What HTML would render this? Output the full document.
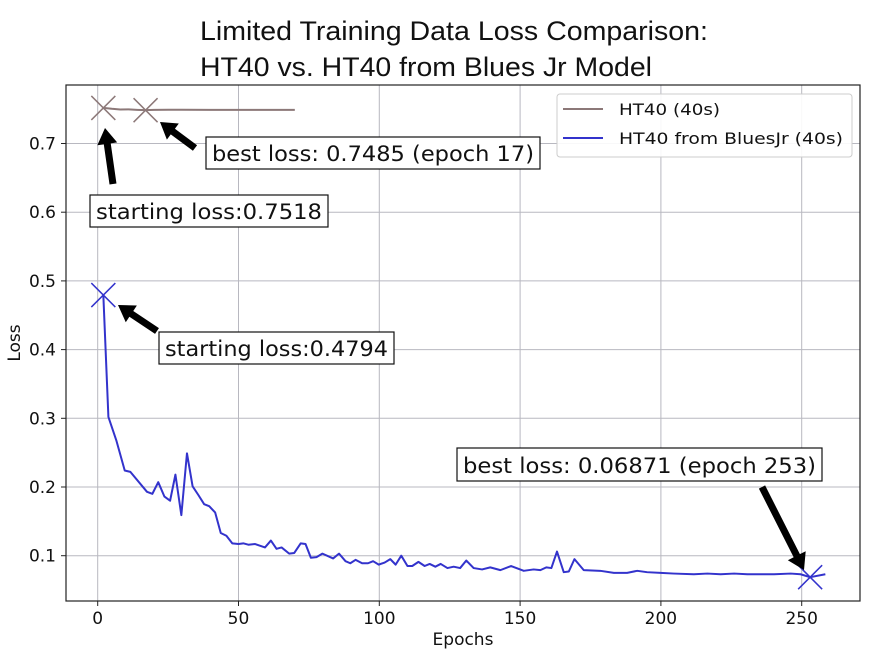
<!DOCTYPE html>
<html><head><meta charset="utf-8"><style>
html,body{margin:0;padding:0;background:#fff;}
svg text{font-family:"DejaVu Sans","Liberation Sans",sans-serif;}
</style></head><body>
<svg id="chart" width="893" height="654" xmlns="http://www.w3.org/2000/svg">
<rect width="893" height="654" fill="#fff"/>
<text x="200" y="40" font-size="27" textLength="508" lengthAdjust="spacingAndGlyphs" style="font-family:'Liberation Sans',sans-serif" fill="#111">Limited Training Data Loss Comparison:</text>
<text x="200" y="76" font-size="27" textLength="452" lengthAdjust="spacingAndGlyphs" style="font-family:'Liberation Sans',sans-serif" fill="#111">HT40 vs. HT40 from Blues Jr Model</text>
<g id="grid"></g>
<g id="ticks"></g>
<g id="series"></g>
<rect x="66" y="85" width="794" height="516" fill="none" stroke="#222" stroke-width="1.2"/>
<text transform="translate(20,343) rotate(-90)" text-anchor="middle" font-size="17" fill="#111">Loss</text>
<text x="463" y="645" text-anchor="middle" font-size="17" fill="#111">Epochs</text>
<g>
<rect x="557" y="94" width="295" height="63" rx="3" fill="#fff" fill-opacity="0.9" stroke="#ccc"/>
<line x1="563" y1="109" x2="603" y2="109" stroke="#8c7878" stroke-width="2"/>
<text x="619" y="115" font-size="16" textLength="101" lengthAdjust="spacingAndGlyphs" fill="#111">HT40 (40s)</text>
<line x1="563" y1="138" x2="603" y2="138" stroke="#3333cc" stroke-width="2"/>
<text x="619" y="144" font-size="16" textLength="224" lengthAdjust="spacingAndGlyphs" fill="#111">HT40 from BluesJr (40s)</text>
</g>
<g id="annotations"></g>
</svg>
<script>
const xTicks=[0,50,100,150,200,250];
const yTicks=[0.1,0.2,0.3,0.4,0.5,0.6,0.7];
const yTickLabels=["0.1","0.2","0.3","0.4","0.5","0.6","0.7"];
const ht40Epochs=[2,5,8,11,14,17,20,25,30,40,50,60,70];
const ht40Loss=[0.7518,0.7505,0.7495,0.7497,0.7490,0.7485,0.7490,0.7492,0.7491,0.7490,0.7490,0.7490,0.7490];
const bluesEpochs=[2,3.8,6.6,9.6,11.6,17.5,19.4,21.5,23.7,25.7,27.6,29.7,31.7,33.7,35.8,37.8,39.6,41.7,43.7,45.7,47.8,50,51.7,53.5,55.9,59.4,61.5,63.5,65.3,68,69.8,72.1,73.8,75.7,77.7,79.8,83.6,85.7,88,89.7,91.6,93.9,96,97.8,99.8,101.9,103.9,105.8,107.8,110,111.7,113.9,116.1,117.9,119.9,121.8,124.2,126.4,128.7,130.9,133.5,136.5,139.4,143,146.8,151.3,154.8,157.2,159.3,161.1,163.1,165.5,167.3,169.3,172.6,178.5,183.3,188,191.6,195.1,199.9,204.6,211.7,216.5,221.2,226,230.7,235.4,240.2,246.1,249.6,253,258.4];
const bluesLoss=[0.4794,0.302,0.268,0.224,0.222,0.193,0.190,0.207,0.186,0.180,0.218,0.159,0.249,0.201,0.188,0.175,0.172,0.163,0.133,0.129,0.118,0.117,0.118,0.116,0.117,0.112,0.122,0.110,0.112,0.103,0.104,0.118,0.117,0.097,0.098,0.103,0.096,0.103,0.092,0.089,0.094,0.089,0.089,0.092,0.087,0.090,0.095,0.087,0.100,0.085,0.085,0.091,0.085,0.088,0.084,0.088,0.082,0.084,0.082,0.093,0.082,0.080,0.083,0.079,0.085,0.078,0.080,0.079,0.083,0.082,0.106,0.076,0.077,0.095,0.079,0.078,0.075,0.075,0.078,0.076,0.075,0.074,0.073,0.074,0.073,0.074,0.073,0.073,0.073,0.074,0.073,0.06871,0.073];
const ht40Start=[2,0.7518], ht40Best=[17,0.7485], bluesStart=[2,0.4794], bluesBest=[253,0.06871];

const NS="http://www.w3.org/2000/svg";
const X=e=>97.7+e*2.816;
const Y=v=>555.7-(v-0.1)*687;
function mk(tag,attrs,parent){const el=document.createElementNS(NS,tag);for(const k in attrs)el.setAttribute(k,attrs[k]);parent.appendChild(el);return el;}
const grid=document.getElementById('grid'),ticks=document.getElementById('ticks'),series=document.getElementById('series'),ann=document.getElementById('annotations');
xTicks.forEach(t=>{
  const g=mk('line',{x1:X(t),x2:X(t),y1:85,y2:601,stroke:'#b8b8c0','stroke-width':1},grid);
  
  
  mk('line',{x1:X(t),x2:X(t),y1:601,y2:606,stroke:'#222'},ticks);
  const tx=mk('text',{x:X(t),y:624,'text-anchor':'middle','font-size':17,fill:'#111'},ticks);
  tx.textContent=String(t);
  
  
});
yTicks.forEach((t,i)=>{
  const g=mk('line',{x1:66,x2:860,y1:Y(t),y2:Y(t),stroke:'#b8b8c0','stroke-width':1},grid);
  
  
  mk('line',{x1:61,x2:66,y1:Y(t),y2:Y(t),stroke:'#222'},ticks);
  const tx=mk('text',{x:56,y:Y(t)+6,'text-anchor':'end','font-size':17,fill:'#111'},ticks);
  tx.textContent=yTickLabels[i];
  
  
});
function line(ex,vs,color,name){
  const p=mk('polyline',{points:ex.map((e,i)=>X(e)+','+Y(vs[i])).join(' '),fill:'none',stroke:color,'stroke-width':2,'stroke-linejoin':'round'},series);
  
  
}
line(ht40Epochs,ht40Loss,'#8c7878','ht40-line');
line(bluesEpochs,bluesLoss,'#3333cc','ht40-bluesjr-line');
function cross(pt,color,name){
  const x=X(pt[0]),y=Y(pt[1]),s=12;
  const g=mk('path',{d:`M${x-s} ${y-s}L${x+s} ${y+s}M${x-s} ${y+s}L${x+s} ${y-s}`,stroke:color,'stroke-width':1.5,fill:'none'},series);
  
  
}
cross(ht40Start,'#8c7878','ht40-start-marker');
cross(ht40Best,'#8c7878','ht40-best-marker');
cross(bluesStart,'#3333cc','bluesjr-start-marker');
cross(bluesBest,'#3333cc','bluesjr-best-marker');
function arrow(x1,y1,x2,y2,name){
  const dx=x2-x1,dy=y2-y1,L=Math.hypot(dx,dy),ux=dx/L,uy=dy/L,px=-uy,py=ux;
  const hl=16,hw=10,w=3.5;
  const bx=x2-ux*hl,by=y2-uy*hl;
  const pts=[[x1+px*w,y1+py*w],[bx+px*w,by+py*w],[bx+px*hw,by+py*hw],[x2,y2],[bx-px*hw,by-py*hw],[bx-px*w,by-py*w],[x1-px*w,y1-py*w]];
  const a=mk('polygon',{points:pts.map(p=>p.join(',')).join(' '),fill:'#000'},ann);
  
  
}
arrow(113,184,105,128,'arrow-ht40-start');
arrow(195,148,160,122,'arrow-ht40-best');
arrow(157,331,118,305,'arrow-bluesjr-start');
arrow(762,487,804,570,'arrow-bluesjr-best');
function box(x,y,w,h,txt,name){
  const r=mk('rect',{x:x,y:y,width:w,height:h,fill:'#fff',stroke:'#111','stroke-width':1.2},ann);
  
  
  const t=mk('text',{x:x+6,y:y+h-8,'font-size':21,fill:'#111',textLength:w-12,lengthAdjust:'spacingAndGlyphs'},ann);
  t.textContent=txt;
  
  
}
box(90,195,238,32,'starting loss:0.7518','ht40-start-annotation');
box(206,137,334,32,'best loss: 0.7485 (epoch 17)','ht40-best-annotation');
box(159,332,235,32,'starting loss:0.4794','bluesjr-start-annotation');
box(457,448,365,33,'best loss: 0.06871 (epoch 253)','bluesjr-best-annotation');
</script>
</body></html>
